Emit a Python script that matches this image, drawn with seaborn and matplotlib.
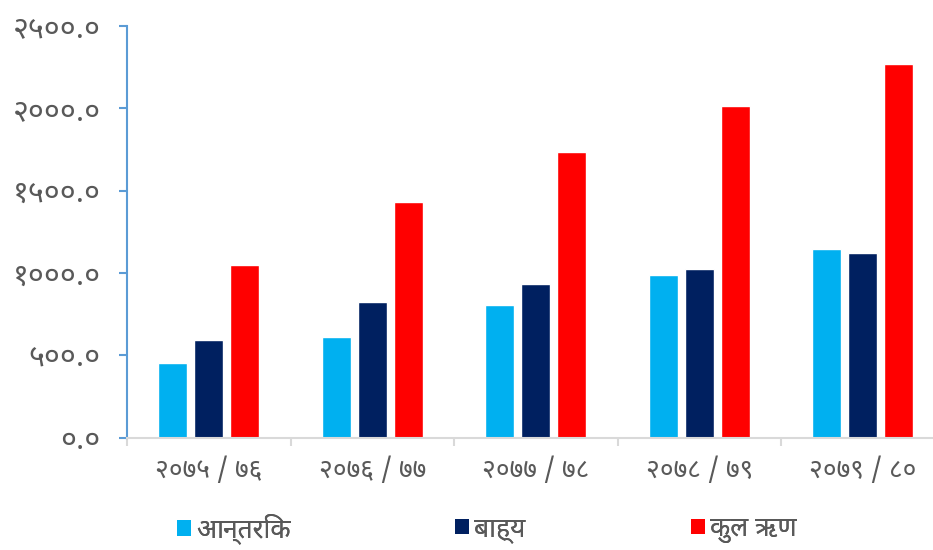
import matplotlib
matplotlib.use("Agg")
import matplotlib.pyplot as plt
from matplotlib import font_manager
from matplotlib.patches import Patch
import pandas as pd
import seaborn as sns

# Fiscal years and debt figures (Rs. billion)
years = ["२०७५ / ७६", "२०७६ / ७७", "२०७७ / ७८", "२०७८ / ७९", "२०७९ / ८०"]
series_names = ["आन्तरिक", "बाह्य", "कुल ऋण"]
internal = [452, 612, 803, 988, 1144]
external = [596, 821, 933, 1026, 1123]
total = [1048, 1433, 1736, 2014, 2267]
colors = ["#00B0F0", "#002060", "#FF0000"]

y_ticks = [0, 500, 1000, 1500, 2000, 2500]
y_tick_labels = ["०.०", "५००.०", "१०००.०", "१५००.०", "२०००.०", "२५००.०"]

sns.set_theme(style="white")

available = {f.name for f in font_manager.fontManager.ttflist}
family = next((f for f in ["Noto Sans Devanagari", "Mukta", "Hind", "FreeSans"]
               if f in available), "DejaVu Sans")
plt.rcParams["font.family"] = [family, "DejaVu Sans"]
plt.rcParams["font.weight"] = "light"

df = pd.DataFrame({
    "year": years * 3,
    "series": [s for s in series_names for _ in years],
    "value": internal + external + total,
})

W, H = 933, 550
fig = plt.figure(figsize=(W / 100, H / 100), dpi=100)
ax = fig.add_axes([127 / W, 112.3 / H, 817.5 / W, 411.7 / H])

sns.barplot(data=df, x="year", y="value", hue="series", order=years,
            hue_order=series_names, palette=colors, width=0.66, gap=0.2,
            saturation=1, ax=ax, legend=False)

ax.set_xlim(-0.5, len(years) - 0.5)
ax.set_ylim(0, 2500)
ax.set_xlabel("")
ax.set_ylabel("")

text_color = "#595959"
ax.set_yticks(y_ticks)
ax.set_yticklabels(y_tick_labels, fontsize=22, color=text_color)
ax.tick_params(axis="y", which="major", direction="out", length=6, width=1.5,
               color="#5B9BD5", left=True, pad=13)

ax.set_xticks(range(len(years)))
ax.set_xticklabels(years, fontsize=19, color=text_color)
ax.tick_params(axis="x", which="major", length=0, pad=14)
ax.set_xticks([i - 0.5 for i in range(len(years) + 1)], minor=True)
ax.tick_params(axis="x", which="minor", direction="out", length=6, width=1.5,
               color="#D9D9D9", bottom=True)

for side in ["top", "right"]:
    ax.spines[side].set_visible(False)
ax.spines["left"].set_color("#5B9BD5")
ax.spines["left"].set_linewidth(1.5)
ax.spines["bottom"].set_color("#D9D9D9")
ax.spines["bottom"].set_linewidth(1.5)

# One legend entry per series, each anchored at its own swatch position
legend_x = [177, 455, 691]
for name, color, x0 in zip(series_names, colors, legend_x):
    leg = fig.legend([Patch(facecolor=color, edgecolor="none")], [name],
                     loc="center left", bbox_to_anchor=(x0 / W, 1 - 529 / H),
                     frameon=False, fontsize=19, labelcolor=text_color,
                     handlelength=0.53, handleheight=0.53, handletextpad=0.2,
                     borderpad=0, borderaxespad=0)
    fig.add_artist(leg)

fig.savefig("out.png", dpi=100)
